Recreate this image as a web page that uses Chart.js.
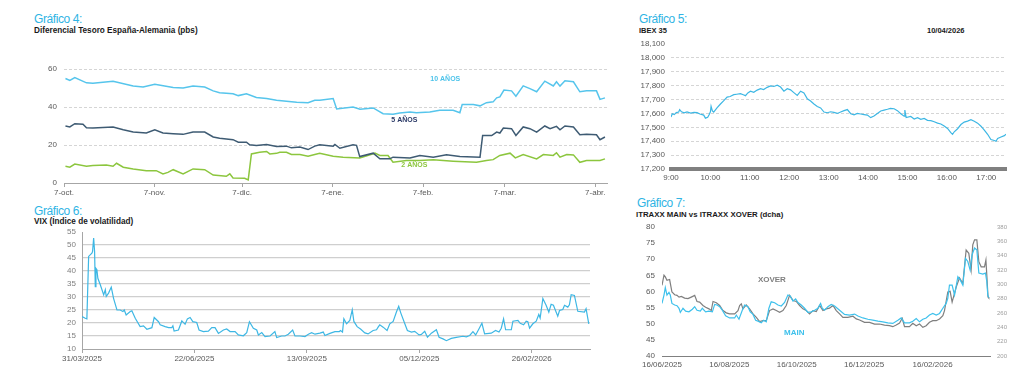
<!DOCTYPE html>
<html><head><meta charset="utf-8">
<script src="https://cdn.jsdelivr.net/npm/chart.js@4/dist/chart.umd.min.js"></script>
<style>
body{margin:0;width:1024px;height:380px;background:#fff;position:relative;overflow:hidden;font-family:'Liberation Sans',Arial,sans-serif;}
canvas{position:absolute;}
.t{position:absolute;color:#2fb4e4;font-size:12px;line-height:12px;letter-spacing:-0.4px;white-space:nowrap;}
.s{position:absolute;color:#1a1a1a;font-size:7.5px;line-height:7.5px;font-weight:bold;white-space:nowrap;}
</style></head><body>
<div class="t" style="left:34px;top:13px">Gráfico 4:</div>
<div class="s" style="left:34px;top:27px;font-size:8.2px">Diferencial Tesoro España-Alemania (pbs)</div>
<div class="t" style="left:639px;top:13px">Gráfico 5:</div>
<div class="s" style="left:639px;top:27px">IBEX 35</div>
<div class="s" style="left:927px;top:27px">10/04/2026</div>
<div class="t" style="left:34px;top:205px">Gráfico 6:</div>
<div class="s" style="left:34px;top:217.5px;font-size:8.2px">VIX (Índice de volatilidad)</div>
<div class="t" style="left:637px;top:197px">Gráfico 7:</div>
<div class="s" style="left:636px;top:211px;font-size:7.8px">ITRAXX MAIN vs ITRAXX XOVER (dcha)</div>
<canvas id="c4" width="600" height="142" style="left:20px;top:61px"></canvas>
<canvas id="c5" width="404" height="150" style="left:620px;top:36px"></canvas>
<canvas id="c6" width="580" height="145" style="left:20px;top:226px"></canvas>
<canvas id="c7" width="404" height="160" style="left:620px;top:220px"></canvas>
<script>
// ---------- Gráfico 4: spread vs Germany (pbs), x = days since 7-oct ----------
const tickDays4 = [0, 31, 61, 92, 123, 151, 182];
const tickLabels4 = ['7-oct.', '7-nov.', '7-dic.', '7-ene.', '7-feb.', '7-mar.', '7-abr.'];
const days10 = [0.5,2,3.7,7.7,9.9,16.8,23.7,27.1,31.1,37.4,40.8,44.2,48.2,51.1,53.3,57.9,59.7,62.5,65.9,69.4,72.8,76.2,79.7,83.6,85.9,87.6,92.2,93.4,99,101.4,105.9,109.3,112.7,115,118.5,120.7,125.3,128.7,133.3,135.6,136.4,140.2,142.5,144.7,147,148.2,149.3,150.7,153.3,154.8,157.3,159.6,161.9,164.7,167.6,168.7,169.9,171.6,174.5,176.7,179,182.4,183.6,185.3];
const spread10 = [55,54,55.5,52.7,52.5,53.6,51,50.5,52,50.3,50,51,50.5,48.5,47.5,47,46,47,45,44.5,43.6,43,42.5,42.3,43.5,43.6,44.5,39,40,38.8,39.5,36.5,36.2,36.9,37.4,37,37.4,38.3,38.3,37,41.3,41.3,40.6,42.3,42.7,44.8,45.3,48.9,48.5,45.7,51.1,49.7,48,53.6,51.1,53.3,51,53.8,53.3,48,48.5,48.5,44,44.8];
const days5 = [0.5,2,3.7,6.5,7.7,9.9,16.8,20.3,23.7,28.2,31.1,33.9,37.4,40.8,44.2,48.2,51.1,53.3,57.9,59.7,62.5,63.6,65.9,69.4,72.8,76.2,77.9,80.8,83.6,85.9,87.6,92.2,92.8,94.5,99,100.2,101.3,105.9,108.2,111.6,112.7,118.5,121.9,126.5,131,135.6,142.5,143.4,146.5,148.2,149.3,150.5,153.3,154.8,157.3,159.6,161.9,164.7,166.5,168.7,169.9,171.6,174.5,176.7,179,182.4,183.6,185.3];
const spread5 = [30,29.5,31.2,30.9,29.1,28.9,29.5,28,26.8,26.3,28,26.3,25.9,25.6,26.8,26.8,24.2,23.6,22.8,21.5,21.5,20.1,19.8,20.3,19.2,19.4,18.5,18.9,17.6,19.4,20.1,19.4,20.3,18.3,20.1,19.8,13.9,15.7,12.7,12.7,13.6,13.2,14.5,13.6,14.8,13.9,13.6,25,25,26.8,26.3,28.9,28.6,25,29.5,28.6,26.8,30,28.6,29.8,28,30,29.5,25.4,25.6,25.4,22.8,24.2];
const days2 = [0.5,2,3.7,7.7,9.9,14.5,16.8,18,20.3,23.7,28.2,31.6,33.9,35.6,37.4,40.8,44.2,48.2,51.1,55.6,56.8,57.9,61.9,63.1,64.2,67,69.4,70.5,72.8,73.9,76.2,77.9,80.8,83.6,85.9,87.6,92.2,95.6,101.3,106.5,108.2,111,112.7,117.3,121.9,126.5,133.3,141.3,144.7,147,149.3,152.8,154.6,157.3,161.9,164.2,167.6,168.7,169.9,172.2,174.5,176.7,179,183.6,185.3];
const spread2 = [8.8,8.3,10,8.8,9.2,9.5,8.8,10.4,8.3,7.4,6.5,6.5,4.8,5.6,7,4.8,7.4,7,4.2,3.5,4.8,2.6,2.5,1.6,15.3,16.2,16.6,15.3,15.6,16.2,16.2,15,15,14.1,15,15.7,14.1,13.6,13.2,15.7,14.5,14.5,10.9,11.8,11.8,12.2,11.5,10.9,11.8,12.3,14.5,15.7,13.2,15,12.7,15,14.5,15.9,13.6,15,14.8,10.9,11.8,11.8,12.7];

// ---------- Gráfico 5: IBEX 35 intraday, x = minutes since 9:00 ----------
const tickMin5 = [0, 60, 120, 180, 240, 300, 360, 420, 480];
const tickLabels5 = ['9:00','10:00','11:00','12:00','13:00','14:00','15:00','16:00','17:00'];
const minutes5 = [0,2,5,8,11.7,13.2,16,20,24.4,30,35,39.7,44,49.8,52.4,55.9,58,60,61,63,65,70,75.3,80,85.4,90,95.6,100,105.8,110,113.4,117,121,126,131.2,136.3,141,146.4,151.5,156.6,161.7,166.8,171.9,177,182,187,192.2,197.3,202.4,207.5,212.5,217.6,222.7,227.8,232.9,238,243,248,253.2,258.3,263.4,268.5,273.6,278.6,283.7,288.8,294,299,304,309,314.2,319.3,324.4,329.5,334,339.7,344.7,349.8,354.9,356,358,365,370.2,375.3,380.3,385.4,390.5,395.6,400.7,405.8,410.8,415.9,421,426,428.6,431.2,436.3,441.4,446.4,451.5,456.6,461.7,466.8,471.9,477,482,487,492.2,494.7,497.3,502.4,507.5,510];
const ibex = [17575,17598,17592,17606,17610,17628,17612,17604,17611,17602,17608,17606,17596,17588,17566,17572,17590,17612,17652,17618,17610,17640,17668,17690,17718,17722,17735,17738,17742,17735,17728,17748,17760,17752,17768,17778,17772,17788,17798,17794,17803,17790,17760,17778,17770,17750,17730,17760,17748,17705,17690,17668,17650,17640,17610,17605,17612,17608,17600,17610,17620,17628,17598,17590,17600,17596,17592,17588,17570,17582,17600,17618,17624,17630,17636,17634,17620,17598,17580,17624,17570,17578,17560,17570,17558,17564,17550,17548,17540,17530,17524,17510,17492,17462,17450,17468,17490,17520,17538,17545,17555,17544,17530,17508,17480,17450,17412,17405,17400,17420,17430,17440,17450];

// ---------- Gráfico 6: VIX, x = days since 31/03/2025 ----------
const tickDays6 = [0, 83, 166, 249, 332];
const tickLabels6 = ['31/03/2025','22/06/2025','13/09/2025','05/12/2025','26/02/2026'];
const daysVix = [0,2.4,3.6,4.9,7.3,7.8,8.6,9.3,9.8,10.3,11,11.7,13.5,16,17.2,17.9,19.6,21.6,23.3,25.8,28.2,30.2,31.2,32.6,35.6,36.8,39.3,42.9,45.4,47.9,51.6,53.3,56.5,57.7,61.4,63.9,66.3,67.1,68,71.2,73.7,76.1,77.8,79.8,81.8,84.7,86.4,89.6,93.3,95.8,98.2,100.7,104.4,106.8,109.3,113,115.4,119.1,121.6,123.6,126.5,129,130.2,132.7,135.1,138.8,142.4,143.7,147.4,149.8,152.3,155.5,157.2,160.9,164.6,167.1,169.5,172,175.6,178.1,179.3,183,186.7,189.9,190.9,192.3,193.3,195.3,197.7,199.5,200.7,203.1,205.6,208.8,211.2,214.9,217.4,218.6,219.8,222.3,225.2,227.2,229.7,232.1,233.8,235.3,238.3,240.2,243.2,245.6,248.8,250.5,253,255,257.9,261.6,263.6,266.5,269,272.6,276.3,281.2,283.7,286.2,288.6,290.6,293,295.2,297.2,302.1,305.3,307.8,309.5,311.2,312.7,316.9,318.1,321.8,323.5,326,327.9,329.1,330.4,332.8,335.3,337.2,338.2,340.2,342.6,344.6,346.3,348,351.2,352.5,354.9,356.2,358.6,359.8,361.1,363.5,366,370.9,372.1,374.1];
const vix = [22.5,21.8,21.6,45.6,46.9,47.5,52.7,47.5,34,41,40.5,37.2,34.7,30.8,32.8,30.2,31.5,33.8,29.5,25,25,24.4,25,23.1,24.4,24.7,21.8,18.6,18.9,17.6,18.2,22.1,20.5,19.3,18.6,18.2,18.2,18.9,16.9,17.3,20.8,19.5,21.6,22.1,20.5,20.2,17.3,16.7,16.9,18.2,18.2,16,17.3,17.7,16.7,16.7,15.4,15.1,16.3,20.5,18,17.3,15.4,16.3,14.8,15,16.7,14.4,15,15,15.7,17.3,15,15,14.8,15.7,16.3,15.7,16.1,16.5,15.2,16,16.7,16.7,17.1,16.5,21.6,19.7,21,25.1,20.6,18.6,17.7,16.2,15.8,17.1,17.4,18.4,19.3,18.4,17.1,19.7,20.6,24.2,26.4,23.9,19.7,17.1,16.5,16.8,15.4,15.6,16.8,14.5,16.1,17.4,14.5,13.9,13.2,14.1,14.5,14.9,14.7,15.2,16.7,15.4,17.7,19.9,15.8,16.1,17.1,16.5,18,21.6,17.4,17.4,20.7,21,19.9,19.3,20.7,20.5,18,19.7,20.7,23.3,21.9,29.4,26.8,24.2,27.2,26.8,22.6,24.8,25.2,26.8,26.1,27,30.9,30.6,24.5,24.2,25.5,19.7];

// ---------- Gráfico 7: iTraxx Main (left) vs Xover (right), x = days since 16/06/2025 ----------
const tickDays7 = [0, 61, 122, 183, 245];
const tickLabels7 = ['16/06/2025','16/08/2025','16/10/2025','16/12/2025','16/02/2026'];
const daysMain = [0,1.8,3,4.5,6.3,7.5,9,11.5,13.6,15.4,16.6,19,21.4,24.4,27.5,29.6,31.7,34.7,36.5,39.5,42.5,45.6,47.7,49.8,52.2,54.6,57.6,61.2,65.8,67.3,69.7,72.7,74.8,77.8,79.9,82.4,84.8,86.9,89.9,92,94.4,96.8,98.9,102,105,108,111,114,116.1,118.6,121,123.1,126.1,129.1,132.1,135.1,138.2,141.2,143.6,145.1,147.2,150.2,153.2,156.3,160.8,165.3,169.8,174.4,177.4,181.9,186.4,190.9,195.5,200,204.5,209,213.6,216.6,219.6,224.1,227.1,230.2,233.2,236.2,239.2,242.2,245.2,248.3,251.3,254.3,257.3,258.8,260.3,262.7,264.9,267.9,270,272.4,274.8,276.9,279,280.8,283,285.1,286.9,290.5,292.9,294.1,295,295.9];
const main = [56.3,58.9,61.2,58.9,59.7,58.9,56.3,55.8,55.6,54.8,53.5,54.8,53.9,53.7,54.5,55.3,54.2,53.9,54.8,53.7,53.9,53.7,56,55.8,55.3,54.2,52.5,51.8,51.8,52.7,51.4,54.2,55.8,55.3,53.7,52.9,51.1,50.8,50.3,51.1,50.6,54.8,56.8,56.5,55.8,55.5,56.6,58.9,58.6,57,57.7,56.6,55.8,54.8,53.5,53.7,54.2,54.8,56.3,54.8,54.2,55.3,56,55.5,54.2,52.9,52.7,53,52.4,51.8,51.4,51.1,50.8,50.6,50.3,50.1,51.1,51.8,50.3,50.3,50.8,51.6,50.6,51.4,51.8,52.7,53.2,52.7,53.2,54.8,56.3,57.9,62,62,58.9,64.6,63.6,62,70.3,69.3,66.7,71.4,73.5,72.9,65.7,65.4,65.7,63.1,58.9,58.1];
const daysXover = [0,1.8,3,4.5,6.9,9,11.5,13.6,15.4,17.5,20.5,23.5,26.5,29.6,31.7,34.1,37.1,39.5,42.5,44.6,46.2,49.2,52.2,55.2,58.2,61.2,65.8,68.8,70.3,71.8,73.3,76.3,79.3,82.4,85.4,88.4,91.4,94.4,97.4,100.5,103.5,106.5,109.5,112.5,115.5,118.6,121.6,124.6,127.6,130.6,133.6,136.7,139.7,142.7,145.7,148.7,151.7,154.8,157.8,160.8,163.8,168.3,172.9,175.9,178.9,183.4,187.9,192.5,197,201.5,206,209,212.1,215.1,217.5,219.6,224.1,227.1,230.2,233.2,236.2,239.2,242.2,245.2,248.3,251.3,254.3,255.8,258.8,260.9,262.7,266.4,269.4,272.4,275.4,277.8,279.9,281.4,283,285.1,286.9,289,292,293.3,294.3,295.2,295.9];
const xover = [298.7,312.8,310.4,305.7,306.7,289.3,285.5,284.6,282.2,283.2,280.8,280,282.2,284.6,276.1,275.2,270.5,268.1,265.8,263.4,276.1,274.3,270.5,263.4,260.2,258.7,258.7,263.4,270.5,272.8,265.8,271.4,265.8,258.7,254,247.9,249.3,249.3,263.4,265.8,263.4,261.1,263.4,270.5,284.6,277.5,276.1,270.5,265.8,263.4,258.7,263.4,262,270.5,263.4,265.8,266.7,270.5,263.4,258.7,254,254,255.5,251.7,250.3,247,247,244.6,244.6,243.2,242.3,240.9,243.2,246,252.6,240.9,240.9,245.6,242.3,244.6,240,242.3,247,249.3,249.3,251.7,256.4,263.4,289.3,290.2,275.2,296.3,309,301,348,343.3,319.8,355,362,362,331.6,324.5,324.5,333.9,308,282.2,280.8];

// ---------- helpers ----------
const FAM = "'Liberation Sans', Arial, sans-serif";
const pts = (xs, ys) => xs.slice(0, Math.min(xs.length, ys.length)).map((x, i) => ({x, y: ys[i]}));
const fixTicks = (vals) => (s) => { s.ticks = vals.map(v => ({value: v})); };
const fitY = (w) => (s) => { s.width = w; s.paddingTop = 0; s.paddingBottom = 0; };
const fitX = (h) => (s) => { s.height = h; s.paddingLeft = 0; s.paddingRight = 0; };
const textPlugin = {
  id: 'txt',
  afterDatasetsDraw(chart, args, opts) {
    const ctx = chart.ctx;
    (opts.items || []).forEach(it => {
      const xs = chart.scales.x, ys = chart.scales[it.axis || 'y'];
      ctx.save();
      ctx.font = it.font; ctx.fillStyle = it.color;
      ctx.textAlign = 'center'; ctx.textBaseline = 'middle';
      ctx.fillText(it.text, xs.getPixelForValue(it.x), ys.getPixelForValue(it.y));
      ctx.restore();
    });
  }
};
const base = {responsive: false, animation: false, devicePixelRatio: 1,
  elements: {point: {radius: 0}, line: {tension: 0}},
  plugins: {legend: {display: false}, tooltip: {enabled: false}}};

// Chart 4
new Chart(document.getElementById('c4'), {
  type: 'line',
  data: {datasets: [
    {data: pts(days10, spread10), borderColor: '#56c5ec', borderWidth: 1.5},
    {data: pts(days5, spread5), borderColor: '#3e5b73', borderWidth: 1.5},
    {data: pts(days2, spread2), borderColor: '#8cc63e', borderWidth: 1.5}
  ]},
  plugins: [textPlugin],
  options: Object.assign({}, base, {
    layout: {padding: {top: 8, right: 13, left: 0, bottom: 0}},
    plugins: Object.assign({}, base.plugins, {txt: {items: [
      {text: '10 AÑOS', x: 130.6, y: 54.7, color: '#4cc3ea', font: 'bold 7px ' + FAM},
      {text: '5 AÑOS', x: 116.6, y: 33.2, color: '#2b3a67', font: 'bold 7px ' + FAM},
      {text: '2 AÑOS', x: 120, y: 9.5, color: '#8cc63e', font: 'bold 7px ' + FAM}
    ]}}),
    scales: {
      x: {type: 'linear', min: 0, max: 186, afterBuildTicks: fixTicks(tickDays4),
        ticks: {autoSkip: false, maxRotation: 0, padding: 1, color: '#595959', font: {family: FAM, size: 8},
          callback: (v, i) => tickLabels4[i]},
        grid: {drawOnChartArea: false, tickLength: 4, color: '#a6a6a6'},
        border: {color: '#a6a6a6'},
        afterFit: fitX(20)},
      y: {min: 0, max: 60,
        ticks: {stepSize: 20, autoSkip: false, padding: 7, color: '#595959', font: {family: FAM, size: 8}},
        grid: {drawTicks: false, color: c => c.tick && c.tick.value === 0 ? 'rgba(0,0,0,0)' : '#d5d5d5'},
        border: {display: false, dash: [3, 2]},
        afterFit: fitY(44)}
    }
  })
});

// Chart 5
new Chart(document.getElementById('c5'), {
  type: 'line',
  data: {datasets: [{data: pts(minutes5, ibex), borderColor: '#3db7e4', borderWidth: 1.2}]},
  options: Object.assign({}, base, {
    layout: {padding: {top: 8, right: 18, left: 0, bottom: 0}},
    scales: {
      x: {type: 'linear', min: 0, max: 510, afterBuildTicks: fixTicks(tickMin5),
        ticks: {autoSkip: false, maxRotation: 0, padding: 4, color: '#595959', font: {family: FAM, size: 8},
          callback: (v, i) => tickLabels5[i]},
        grid: {drawOnChartArea: false, drawTicks: false},
        border: {color: '#808080', width: 4},
        afterFit: fitX(17)},
      y: {min: 17200, max: 18100,
        ticks: {stepSize: 100, autoSkip: false, padding: 6, color: '#595959', font: {family: FAM, size: 8},
          callback: v => v.toLocaleString('en-US')},
        grid: {drawTicks: false, color: c => c.tick && (c.tick.value === 18100 || c.tick.value === 17200) ? 'rgba(0,0,0,0)' : '#d5d5d5'},
        border: {display: false, dash: [3, 2]},
        afterFit: fitY(51)}
    }
  })
});

// Chart 6
new Chart(document.getElementById('c6'), {
  type: 'line',
  data: {datasets: [{data: pts(daysVix, vix), borderColor: '#3db7e4', borderWidth: 1.2}]},
  options: Object.assign({}, base, {
    layout: {padding: {top: 6, right: 10, left: 0, bottom: 0}},
    scales: {
      x: {type: 'linear', min: 0, max: 375, afterBuildTicks: fixTicks(tickDays6),
        ticks: {autoSkip: false, maxRotation: 0, padding: 1, color: '#595959', font: {family: FAM, size: 8},
          callback: (v, i) => tickLabels6[i]},
        grid: {drawOnChartArea: false, tickLength: 4, color: '#a6a6a6'},
        border: {color: '#a6a6a6'},
        afterFit: fitX(22)},
      y: {min: 10, max: 55,
        ticks: {stepSize: 5, autoSkip: false, padding: 6, color: '#7f7f7f', font: {family: FAM, size: 8}},
        grid: {drawTicks: false, lineWidth: 1.3, color: c => c.tick && (c.tick.value === 55 || c.tick.value === 10) ? 'rgba(0,0,0,0)' : '#cfcfcf'},
        border: {color: '#a6a6a6'},
        afterFit: fitY(62)}
    }
  })
});

// Chart 7
new Chart(document.getElementById('c7'), {
  type: 'line',
  data: {datasets: [
    {data: pts(daysMain, main), borderColor: '#3ec1ec', borderWidth: 1.2, yAxisID: 'y'},
    {data: pts(daysXover, xover), borderColor: '#7f7f7f', borderWidth: 1.2, yAxisID: 'y1'}
  ]},
  plugins: [textPlugin],
  options: Object.assign({}, base, {
    layout: {padding: {top: 7, right: 0, left: 0, bottom: 0}},
    plugins: Object.assign({}, base.plugins, {txt: {items: [
      {text: 'XOVER', x: 99.5, y: 63.6, color: '#7f7f7f', font: 'bold 8px ' + FAM},
      {text: 'MAIN', x: 119.8, y: 47.3, color: '#3ec1ec', font: 'bold 8px ' + FAM}
    ]}}),
    scales: {
      x: {type: 'linear', min: 0, max: 297, afterBuildTicks: fixTicks(tickDays7),
        ticks: {autoSkip: false, maxRotation: 0, padding: 4, color: '#595959', font: {family: FAM, size: 8},
          callback: (v, i) => tickLabels7[i]},
        grid: {drawOnChartArea: false, drawTicks: false},
        border: {color: '#808080'},
        afterFit: fitX(24)},
      y: {position: 'left', min: 40, max: 80,
        ticks: {stepSize: 5, autoSkip: false, padding: 7, color: '#595959', font: {family: FAM, size: 8}},
        grid: {display: false, drawTicks: false}, border: {display: false},
        afterFit: fitY(42)},
      y1: {position: 'right', min: 200, max: 380,
        ticks: {stepSize: 20, autoSkip: false, padding: 7, color: '#a0a0a0', font: {family: FAM, size: 6}},
        grid: {display: false, drawTicks: false}, border: {display: false},
        afterFit: fitY(34)}
    }
  })
});
</script>
</body></html>
